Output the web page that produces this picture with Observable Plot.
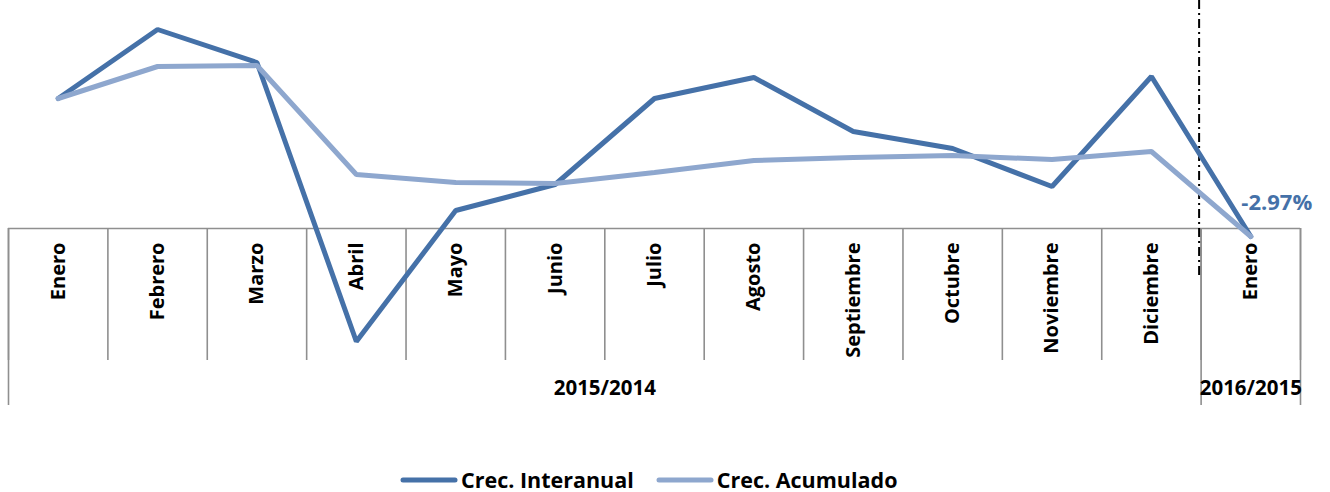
<!DOCTYPE html>
<html>
<head>
<meta charset="utf-8">
<script src="https://cdn.jsdelivr.net/npm/d3@7"></script>
<script src="https://cdn.jsdelivr.net/npm/@observablehq/plot@0.6"></script>
<style>
  html, body { margin: 0; padding: 0; background: #fff; }
  #wrap { position: relative; width: 1330px; height: 492px; font-family: "Open Sans", sans-serif; }
  #legend { position: absolute; left: 400px; top: 466px; display: flex; align-items: center; font-weight: 700; font-size: 21.5px; line-height: 28px; color: #000; }
  #legend .item { display: flex; align-items: center; margin-right: 22px; }
  #legend svg { margin-right: 3px; }
</style>
</head>
<body>
<div id="wrap"></div>
<script>
// ---- data ----
const months = ["Enero","Febrero","Marzo","Abril","Mayo","Junio","Julio","Agosto","Septiembre","Octubre","Noviembre","Diciembre","Enero"];
const interanual = [3.93, 7.38, 5.73, -8.22, -1.67, -0.37, 3.93, 4.98, 2.28, 1.43, -0.47, 5.03, -2.97];
const acumulado  = [3.93, 5.53, 5.58, 0.13, -0.27, -0.32, 0.23, 0.83, 0.98, 1.08, 0.88, 1.28, -2.97];
const groupNames = ["2015/2014", "2016/2015"];
const groupFirst = [0, 12];
const groupLast  = [11, 12];
const seriesNames = ["Crec. Interanual", "Crec. Acumulado"];
const seriesColors = ["#4571A8", "#8EA7CE"];
const lastLabel = "-2.97%";

// ---- derived tables ----
const rows = [];
months.forEach((m, i) => {
  rows.push({i, series: seriesNames[0], value: interanual[i]});
});
months.forEach((m, i) => {
  rows.push({i, series: seriesNames[1], value: acumulado[i]});
});
const boundaries = d3.range(months.length + 1).map(i => i - 0.5);
const groupBoundaries = [groupFirst[0] - 0.5, ...groupLast.map(l => l + 0.5)];
const groupCenters = groupNames.map((g, k) => (groupFirst[k] + groupLast[k]) / 2);
const last = months.length - 1;

const axisCross = -2.57;   // value where the category axis crosses
const H = 450;
const noText = () => "";

const chart = Plot.plot({
  width: 1330,
  height: H,
  marginLeft: 8,
  marginRight: 30,
  marginTop: 0,
  marginBottom: 222,
  style: {fontFamily: "'Open Sans', sans-serif", background: "#fff", overflow: "visible"},
  x: {type: "linear", domain: [-0.5, months.length - 0.5], axis: null, label: null},
  y: {domain: [axisCross, 8.83], axis: null, label: null},
  color: {domain: seriesNames, range: seriesColors},
  marks: [
    // category table: top line
    Plot.ruleY([axisCross], {x1: -0.5, x2: months.length - 0.5, stroke: "#8f8f8f", strokeWidth: 1.6}),
    // month separators
    Plot.axisX({ticks: boundaries, tickSize: 132, tickFormat: noText, label: null, stroke: "#8f8f8f", strokeWidth: 1.6, strokeOpacity: 1}),
    // group separators
    Plot.axisX({ticks: groupBoundaries, tickSize: 177, tickFormat: noText, label: null, stroke: "#8f8f8f", strokeWidth: 1.6, strokeOpacity: 1}),
    // month labels
    Plot.axisX({ticks: d3.range(months.length), tickSize: 0, tickPadding: 14, tickRotate: -90, label: null,
      tickFormat: i => months[i], fontSize: 20, fontWeight: 700, fill: "#000"}),
    // group labels
    Plot.axisX({ticks: groupCenters, tickSize: 0, tickPadding: 152, label: null,
      tickFormat: d => groupNames[groupCenters.indexOf(d)], fontSize: 20.5, fontWeight: 700, fill: "#000"}),
    // dash-dot separator between years
    Plot.ruleX([groupLast[0] + 0.5], {stroke: "#000", strokeWidth: 2, strokeDasharray: "9,4,2,4", insetBottom: -50, dx: -2}),
    // series
    Plot.line(rows, {x: "i", y: "value", stroke: "series", z: "series", strokeWidth: 5, strokeLinejoin: "miter", strokeLinecap: "round"}),
    // last value label
    Plot.text([interanual[last]], {x: () => last, y: d => d, text: () => lastLabel, dx: 26, dy: -34,
      fill: seriesColors[0], fontSize: 22, fontWeight: 700, textAnchor: "middle"})
  ]
});

const wrap = document.getElementById("wrap");
wrap.appendChild(chart);

// legend below the chart
const legend = document.createElement("div");
legend.id = "legend";
seriesNames.forEach((name, k) => {
  const item = document.createElement("div");
  item.className = "item";
  item.innerHTML = `<svg width="58" height="10"><line x1="3" y1="5" x2="55" y2="5" stroke="${seriesColors[k]}" stroke-width="5" stroke-linecap="round"/></svg><span>${name}</span>`;
  legend.appendChild(item);
});
wrap.appendChild(legend);
</script>
</body>
</html>
